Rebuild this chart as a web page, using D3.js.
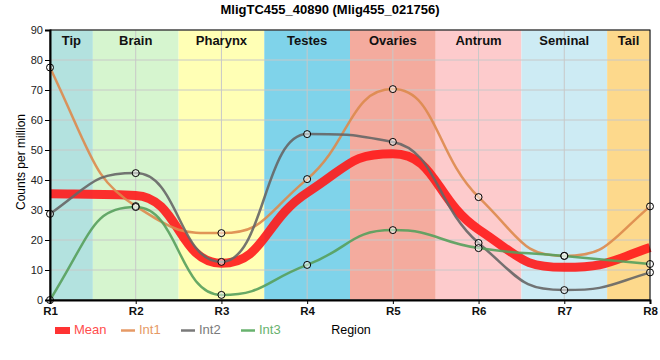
<!DOCTYPE html>
<html><head><meta charset="utf-8">
<script src="https://cdn.jsdelivr.net/npm/d3@7"></script>
<style>body{margin:0;background:#fff;font-family:"Liberation Sans",Arial,sans-serif}</style>
</head><body><svg id="c" width="660" height="360"></svg>
<script>
const regions = ["R1","R2","R3","R4","R5","R6","R7","R8"];
const tissues = ["Tip","Brain","Pharynx","Testes","Ovaries","Antrum","Seminal","Tail"];
const tissueColors = ["#b3e2df","#d6f5cf","#ffffb5","#7fd3ea","#f4ab9e","#fdcbcc","#cdebf4","#fdd98c"];
const int1 = [77.5, 31.3, 22.3, 40.3, 70.3, 34.3, 14.7, 31.2];
const int2 = [28.7, 42.3, 12.7, 55.3, 52.7, 19.0, 3.3, 9.2];
const int3 = [0, 31.0, 1.7, 11.7, 23.3, 17.3, 14.7, 12.0];
const meanVals = regions.map((r,i)=>(int1[i]+int2[i]+int3[i])/3);
const yTicks = [0,10,20,30,40,50,60,70,80,90];

const svg = d3.select("#c");
const L=50,R=650,T=30,B=300;
const x = d3.scalePoint().domain(regions).range([L,R]);
const y = d3.scaleLinear().domain([0,90]).range([B,T]);
const step = x.step();

// smooth path: handles of half an interval, flat at extrema, steep ends
function splinePath(vals){
  const pts = vals.map((v,i)=>({x:x(regions[i]), y:y(v)}));
  const n = pts.length;
  const m = new Array(n).fill(0);
  for(let i=1;i<n-1;i++){
    const a=pts[i-1], b=pts[i], c=pts[i+1];
    let s=(c.y-a.y)/(c.x-a.x);
    const h0=b.x-a.x, h1=c.x-b.x;
    let ly=b.y-s*h0/2, ry=b.y+s*h1/2;
    if((ly>a.y&&ly>b.y)||(ly<a.y&&ly<b.y)){ s=(b.y-a.y)/(h0/2); ly=a.y; ry=b.y+s*h1/2; }
    if((ry>c.y&&ry>b.y)||(ry<c.y&&ry<b.y)){ s=(c.y-b.y)/(h1/2); }
    if((b.y-a.y)*(c.y-b.y)<=0) s=0;
    m[i]=s;
  }
  const s0=(pts[1].y-pts[0].y)/(pts[1].x-pts[0].x);
  m[0]=(3*s0-m[1])/2;
  const sn=(pts[n-1].y-pts[n-2].y)/(pts[n-1].x-pts[n-2].x);
  m[n-1]=(3*sn-m[n-2])/2;
  const p=d3.path();
  p.moveTo(pts[0].x,pts[0].y);
  for(let i=1;i<n;i++){
    const a=pts[i-1], b=pts[i], h=(b.x-a.x)/2;
    p.bezierCurveTo(a.x+h, a.y+m[i-1]*h, b.x-h, b.y-m[i]*h, b.x, b.y);
  }
  return p.toString();
}

svg.append("g").selectAll("rect").data(regions).join("rect")
  .attr("x",d=>Math.max(L,x(d)-step/2))
  .attr("width",d=>Math.min(R,x(d)+step/2)-Math.max(L,x(d)-step/2))
  .attr("y",T).attr("height",B-T)
  .attr("fill",(d,i)=>tissueColors[i]);

svg.append("g").selectAll("line").data(yTicks).join("line")
  .attr("x1",L).attr("x2",R).attr("y1",d=>y(d)).attr("y2",d=>y(d))
  .attr("stroke","#c8c8c8").attr("stroke-width",1);
svg.append("g").selectAll("line").data(regions).join("line")
  .attr("x1",d=>x(d)).attr("x2",d=>x(d)).attr("y1",T).attr("y2",B)
  .attr("stroke","#c8c8c8").attr("stroke-width",1);

svg.append("g").selectAll("text").data(regions).join("text")
  .attr("x",d=>(Math.max(L,x(d)-step/2)+Math.min(R,x(d)+step/2))/2)
  .attr("y",T+14.5).attr("text-anchor","middle")
  .attr("font-size",13).attr("font-weight","bold").attr("fill","#111")
  .text((d,i)=>tissues[i]);

const series = [
  {name:"Int1",vals:int1,color:"#dd8a4c"},
  {name:"Int2",vals:int2,color:"#666666"},
  {name:"Int3",vals:int3,color:"#56a05c"}
];
svg.append("path").attr("d",splinePath(meanVals)).attr("fill","none")
  .attr("stroke","#ff1a1a").attr("stroke-width",9).attr("stroke-opacity",0.9);
series.forEach(s=>{
  svg.append("path").attr("d",splinePath(s.vals)).attr("fill","none")
   .attr("stroke",s.color).attr("stroke-width",2.5).attr("stroke-opacity",0.9);
});
series.forEach(s=>{
  svg.append("g").selectAll("circle").data(s.vals).join("circle")
   .attr("cx",(d,i)=>x(regions[i])).attr("cy",d=>y(d)).attr("r",3.5)
   .attr("fill","#fff").attr("fill-opacity",0.5).attr("stroke","#000").attr("stroke-width",1);
});

svg.append("rect").attr("x",L).attr("y",T).attr("width",R-L).attr("height",B-T)
  .attr("fill","none").attr("stroke","#000").attr("stroke-width",1);

const ya = svg.append("g").attr("transform",`translate(${L},0)`)
  .call(d3.axisLeft(y).tickValues(yTicks).tickSize(5).tickPadding(2));
ya.select(".domain").attr("stroke-width",2);
ya.selectAll("text").attr("font-size",11).attr("font-family","Liberation Sans, Arial, sans-serif").attr("fill","#222");
const xa = svg.append("g").attr("transform",`translate(0,${B})`)
  .call(d3.axisBottom(x).tickSize(4));
xa.select(".domain").attr("stroke-width",2);
xa.selectAll("text").attr("font-size",11.5).attr("font-weight","bold").attr("font-family","Liberation Sans, Arial, sans-serif").attr("fill","#111");

svg.append("text").attr("x",330).attr("y",14).attr("text-anchor","middle")
  .attr("font-size",13).attr("font-weight","bold").text("MligTC455_40890 (Mlig455_021756)");
svg.append("text").attr("transform","translate(25,162) rotate(-90)").attr("text-anchor","middle")
  .attr("font-size",12).text("Counts per million");
svg.append("text").attr("x",351).attr("y",334).attr("text-anchor","middle")
  .attr("font-size",12.5).text("Region");

const lg = svg.append("g");
lg.append("rect").attr("x",55).attr("y",327).attr("width",15).attr("height",7).attr("fill","#ff3333");
lg.append("text").attr("x",74).attr("y",334).attr("font-size",13).attr("fill","#ff4d4d").text("Mean");
const leg = [{n:"Int1",c:"#e69a66",x:121},{n:"Int2",c:"#7a7a7a",x:181},{n:"Int3",c:"#68b26e",x:241}];
leg.forEach(l=>{
  lg.append("line").attr("x1",l.x).attr("x2",l.x+14).attr("y1",330.5).attr("y2",330.5).attr("stroke",l.c).attr("stroke-width",2.5);
  lg.append("text").attr("x",l.x+18).attr("y",334).attr("font-size",13).attr("fill",l.c).text(l.n);
});
</script></body></html>
